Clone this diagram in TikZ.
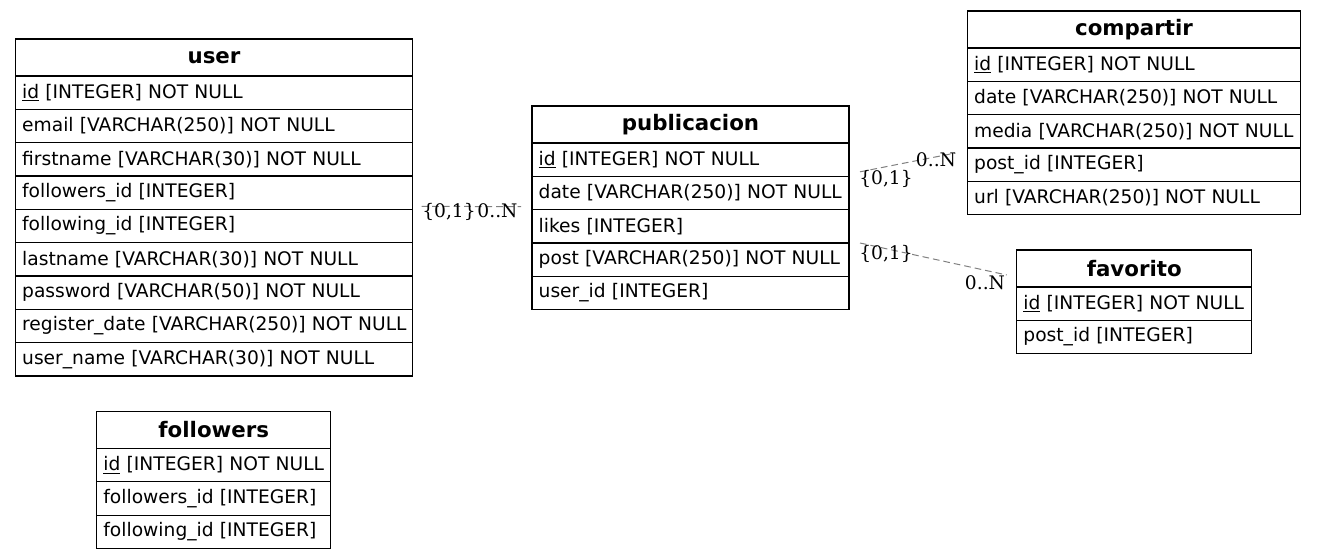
\documentclass[tikz,border=0pt]{standalone}
\usepackage{fontspec}
\setmainfont{DejaVu Sans}
\newfontfamily\cardfont{DejaVu Serif}
\usetikzlibrary{positioning}

\begin{document}
\begin{tikzpicture}[
  x=0.75pt, y=-0.75pt,
  node distance=0pt,
  tblhead/.style={draw, line width=0.8pt, outer sep=0pt, inner sep=0pt,
    minimum width=#1, minimum height=27.75pt, anchor=north west,
    font=\fontsize{16}{19}\selectfont\bfseries},
  tblrow/.style={draw, line width=0.8pt, outer sep=0pt,
    inner xsep=5pt, inner ysep=0pt, text width=#1-10pt,
    minimum height=25pt, align=left,
    font=\fontsize{14}{17}\selectfont},
  rel/.style={black!50, line width=0.75pt, dash pattern=on 5pt off 3pt},
  card/.style={font=\cardfont\fontsize{14}{17}\selectfont,
    inner sep=0pt, anchor=base},
]
\useasboundingbox (0,0) rectangle (1317,559);

% user
\node[tblhead=297.75pt] (user) at (15.5,39) {user};
\node[tblrow=297.75pt, below=of user] (user1) {\underline{id} [INTEGER] NOT NULL};
\node[tblrow=297.75pt, below=of user1] (user2) {email [VARCHAR(250)] NOT NULL};
\node[tblrow=297.75pt, below=of user2] (user3) {firstname [VARCHAR(30)] NOT NULL};
\node[tblrow=297.75pt, below=of user3] (user4) {followers\_id [INTEGER]};
\node[tblrow=297.75pt, below=of user4] (user5) {following\_id [INTEGER]};
\node[tblrow=297.75pt, below=of user5] (user6) {lastname [VARCHAR(30)] NOT NULL};
\node[tblrow=297.75pt, below=of user6] (user7) {password [VARCHAR(50)] NOT NULL};
\node[tblrow=297.75pt, below=of user7] (user8) {\mbox{register\_date [VARCHAR(250)] NOT NULL}};
\node[tblrow=297.75pt, below=of user8] (user9) {user\_name [VARCHAR(30)] NOT NULL};

% followers
\node[tblhead=175.5pt] (fol) at (96.75,411.5) {followers};
\node[tblrow=175.5pt, below=of fol] (fol1) {\underline{id} [INTEGER] NOT NULL};
\node[tblrow=175.5pt, below=of fol1] (fol2) {followers\_id [INTEGER]};
\node[tblrow=175.5pt, below=of fol2] (fol3) {following\_id [INTEGER]};

% publicacion
\node[tblhead=237.75pt] (pub) at (532,106) {publicacion};
\node[tblrow=237.75pt, below=of pub] (pub1) {\underline{id} [INTEGER] NOT NULL};
\node[tblrow=237.75pt, below=of pub1] (pub2) {date [VARCHAR(250)] NOT NULL};
\node[tblrow=237.75pt, below=of pub2] (pub3) {likes [INTEGER]};
\node[tblrow=237.75pt, below=of pub3] (pub4) {post [VARCHAR(250)] NOT NULL};
\node[tblrow=237.75pt, below=of pub4] (pub5) {user\_id [INTEGER]};

% compartir
\node[tblhead=249.75pt] (comp) at (967.5,11) {compartir};
\node[tblrow=249.75pt, below=of comp] (comp1) {\underline{id} [INTEGER] NOT NULL};
\node[tblrow=249.75pt, below=of comp1] (comp2) {date [VARCHAR(250)] NOT NULL};
\node[tblrow=249.75pt, below=of comp2] (comp3) {media [VARCHAR(250)] NOT NULL};
\node[tblrow=249.75pt, below=of comp3] (comp4) {post\_id [INTEGER]};
\node[tblrow=249.75pt, below=of comp4] (comp5) {url [VARCHAR(250)] NOT NULL};

% favorito
\node[tblhead=176.25pt] (fav) at (1016.75,250) {favorito};
\node[tblrow=176.25pt, below=of fav] (fav1) {\underline{id} [INTEGER] NOT NULL};
\node[tblrow=176.25pt, below=of fav1] (fav2) {post\_id [INTEGER]};

% relations
\coordinate (r1a) at ([shift={(9,-3)}]user5.north east);
\coordinate (r1b) at ([shift={(-11,-3)}]pub2.south west);
\draw[rel] (r1a) -- (r1b);
\node[card] (r1from) at (449,218) {\{0,1\}};
\node[card] (r1to) at (497.5,218) {0..N};

\coordinate (r2a) at ([shift={(11,-4.5)}]pub1.south east);
\coordinate (r2b) at ([shift={(-12,5)}]comp4.north west);
\draw[rel] (r2a) -- (r2b);
\node[card] (r2from) at (886,185) {\{0,1\}};
\node[card] (r2to) at (936,167) {0..N};

\coordinate (r3a) at ([shift={(11,0)}]pub3.south east);
\coordinate (r3b) at ([shift={(-10,-12)}]fav.south west);
\draw[rel] (r3a) -- (r3b);
\node[card] (r3from) at (886,260) {\{0,1\}};
\node[card] (r3to) at (985,290) {0..N};
\end{tikzpicture}
\end{document}
